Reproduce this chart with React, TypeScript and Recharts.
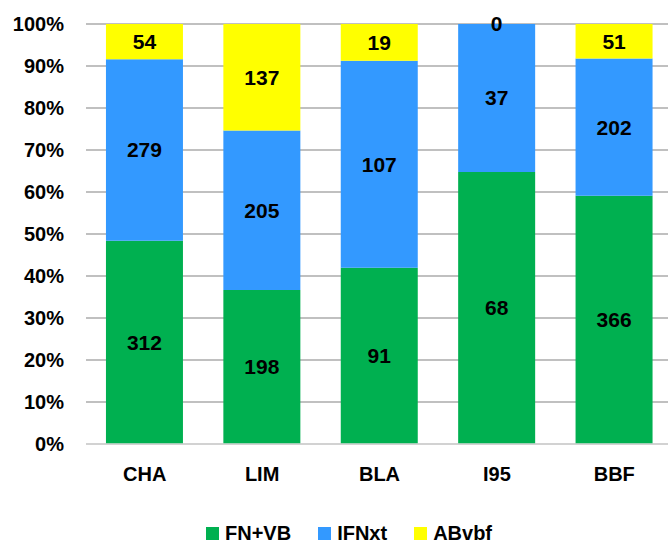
import React from 'react';
import { BarChart, Bar, XAxis, YAxis, CartesianGrid, LabelList, Legend } from 'recharts';

const categories = ['CHA', 'LIM', 'BLA', 'I95', 'BBF'];
const fnvbValues = [312, 198, 91, 68, 366];
const ifnxtValues = [279, 205, 107, 37, 202];
const abvbfValues = [54, 137, 19, 0, 51];
const yTicks = [0, 0.1, 0.2, 0.3, 0.4, 0.5, 0.6, 0.7, 0.8, 0.9, 1];

const series = [
  { key: 'fnvb', name: 'FN+VB', color: '#00B050' },
  { key: 'ifnxt', name: 'IFNxt', color: '#3399FF' },
  { key: 'abvbf', name: 'ABvbf', color: '#FFFF00' },
];

const data = categories.map((c, i) => ({
  name: c,
  fnvb: fnvbValues[i],
  ifnxt: ifnxtValues[i],
  abvbf: abvbfValues[i],
}));

const FONT = "'Liberation Sans', Arial, sans-serif";
const LABEL_SIZE = 21;

// Draws the top series' label when its segment has zero height (sits on top of the segment below)
const ZeroTopLabel = (props: any) => {
  const { x, y, width, value } = props;
  if (value !== 0) return null;
  return (
    <text
      x={Number(x) + Number(width) / 2}
      y={Number(y)}
      dy="0.355em"
      textAnchor="middle"
      fill="#000"
      fontSize={LABEL_SIZE}
      fontWeight={700}
      fontFamily={FONT}
    >
      {value}
    </text>
  );
};

const LegendContent = () => (
  <div
    style={{
      display: 'flex',
      alignItems: 'center',
      height: 26,
      paddingLeft: 206,
      fontFamily: FONT,
      fontWeight: 700,
      fontSize: 20,
      color: '#000',
      lineHeight: '26px',
    }}
  >
    {series.map((s) => (
      <div key={s.key} style={{ display: 'flex', alignItems: 'center', marginRight: 27 }}>
        <span style={{ display: 'inline-block', width: 13, height: 13, background: s.color, marginRight: 6 }} />
        <span>{s.name}</span>
      </div>
    ))}
  </div>
);

export default function App() {
  return (
    <div style={{ position: 'absolute', left: 0, top: 0, width: 668, height: 540, overflow: 'hidden', background: '#fff' }}>
      <BarChart
        width={680}
        height={540}
        data={data}
        stackOffset="expand"
        margin={{ top: 24, right: 7, left: 0, bottom: 20 }}
        barCategoryGap="17%"
      >
        <CartesianGrid vertical={false} stroke="#ABABAB" strokeWidth={1.3} />
        <XAxis
          dataKey="name"
          height={50}
          tickLine={false}
          tickSize={0}
          tickMargin={23}
          axisLine={{ stroke: '#D9D9D9', strokeWidth: 1.5 }}
          tick={{ fill: '#000', fontSize: 20, fontWeight: 700, fontFamily: FONT }}
        />
        <YAxis
          width={86}
          domain={[0, 1]}
          ticks={yTicks}
          tickFormatter={(v: number) => `${Math.round(v * 100)}%`}
          axisLine={false}
          tickLine={false}
          tickSize={0}
          tickMargin={22}
          tick={{ fill: '#000', fontSize: 20, fontWeight: 700, fontFamily: FONT }}
        />
        <Legend
          verticalAlign="bottom"
          wrapperStyle={{ top: 520, bottom: 'auto', left: 0, width: 680, height: 26 }}
          content={<LegendContent />}
        />
        {series.map((s, idx) => (
          <Bar key={s.key} dataKey={s.key} name={s.name} stackId="a" fill={s.color} isAnimationActive={false}>
            <LabelList
              dataKey={s.key}
              position="center"
              fill="#000"
              fontSize={LABEL_SIZE}
              fontWeight={700}
              fontFamily={FONT}
            />
            {idx === 1 && <LabelList dataKey="abvbf" content={<ZeroTopLabel />} />}
          </Bar>
        ))}
      </BarChart>
    </div>
  );
}
